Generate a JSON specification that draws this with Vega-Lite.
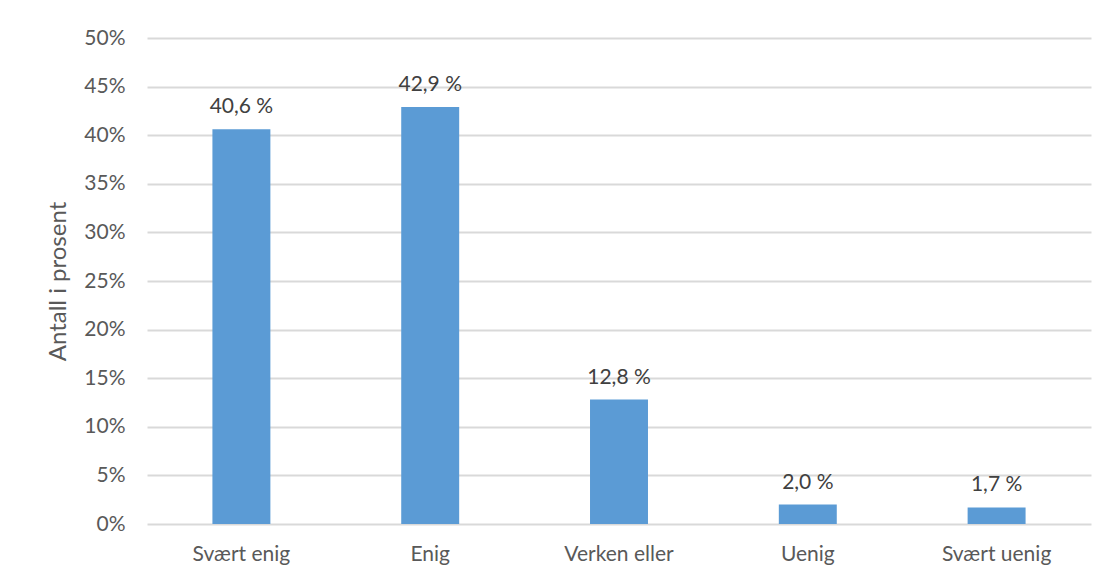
{
  "$schema": "https://vega.github.io/schema/vega-lite/v6.json",
  "autosize": {"type": "none"},
  "width": 944,
  "height": 486,
  "padding": {"left": 147, "top": 38, "right": 17, "bottom": 59},
  "background": "white",
  "config": {
    "view": {"stroke": null},
    "font": "Lato",
    "text": {"font": "Lato"}
  },
  "data": {
    "values": [
      {"svar": "Svært enig", "prosent": 40.6},
      {"svar": "Enig", "prosent": 42.9},
      {"svar": "Verken eller", "prosent": 12.8},
      {"svar": "Uenig", "prosent": 2.0},
      {"svar": "Svært uenig", "prosent": 1.7}
    ]
  },
  "transform": [
    {"calculate": "replace(format(datum.prosent, '.1f'), '.', ',') + ' %'", "as": "etikett"}
  ],
  "encoding": {
    "x": {
      "field": "svar",
      "type": "nominal",
      "sort": null,
      "scale": {"paddingInner": 0.693, "paddingOuter": 0.3465},
      "axis": {
        "title": null,
        "labelAngle": 0,
        "labelFont": "Lato",
        "labelFontSize": 21,
        "labelColor": "#595959",
        "labelPadding": 19,
        "ticks": false,
        "domain": false
      }
    },
    "y": {
      "field": "prosent",
      "type": "quantitative",
      "scale": {"domain": [0, 50], "nice": false},
      "axis": {
        "title": "Antall i prosent",
        "titleFont": "Lato",
        "titleFontSize": 24,
        "titleFontWeight": "normal",
        "titleColor": "#595959",
        "titlePadding": 13,
        "values": [0, 5, 10, 15, 20, 25, 30, 35, 40, 45, 50],
        "labelExpr": "datum.value + '%'",
        "labelFont": "Lato",
        "labelFontSize": 21,
        "labelColor": "#595959",
        "labelPadding": 22,
        "ticks": false,
        "domain": false,
        "grid": true,
        "gridColor": "#D9D9D9",
        "gridWidth": 2
      }
    }
  },
  "layer": [
    {"mark": {"type": "bar", "color": "#5B9BD5"}},
    {
      "mark": {"type": "text", "baseline": "bottom", "dy": -12, "fontSize": 21, "color": "#404040", "font": "Lato"},
      "encoding": {"text": {"field": "etikett"}}
    }
  ]
}
